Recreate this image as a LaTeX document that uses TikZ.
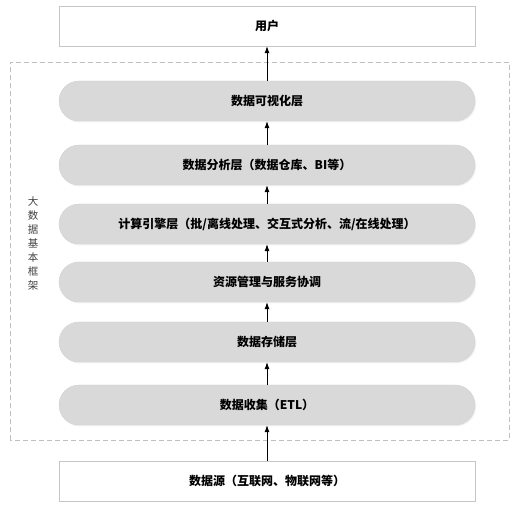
\documentclass[tikz,border=0pt]{standalone}
\usepackage{fontspec}
\newfontfamily\cjk{Noto Sans CJK SC}
\usetikzlibrary{arrows.meta,shadows}

\tikzset{
  layer/.style={draw=gray!35,fill=black!15,rounded corners=20pt,minimum width=416pt,minimum height=40pt,
    font=\cjk\bfseries\fontsize{12}{14}\selectfont,drop shadow={opacity=.12,shadow xshift=1pt,shadow yshift=-1.5pt}},
  endbox/.style={draw=gray!45,fill=white,minimum width=416pt,minimum height=40pt,
    font=\cjk\bfseries\fontsize{12}{14}\selectfont},
  flow/.style={line width=.8pt,-{Latex[length=7pt,width=5pt]}}
}

\begin{document}
\begin{tikzpicture}[x=1pt,y=1pt]
\useasboundingbox (0,0) rectangle (528,528);
% framework frame
\draw[gray!50,dash pattern=on 5pt off 3pt] (10,88) rectangle (509,466);
\node[font=\cjk\fontsize{10.5}{14}\selectfont,align=center,text=black!75] (frame) at (33,284)
  {大\\数\\据\\基\\本\\框\\架};

\node[endbox] (user) at (267,502) {用户};
\node[layer] (vis) at (267,427) {数据可视化层};
\node[layer] (ana) at (267,363) {数据分析层（数据仓库、BI等）};
\node[layer] (comp) at (267,304) {计算引擎层（批/离线处理、交互式分析、流/在线处理）};
\node[layer] (res) at (267,246) {资源管理与服务协调};
\node[layer] (store) at (267,186) {数据存储层};
\node[layer] (etl) at (267,123) {数据收集（ETL）};
\node[endbox] (src) at (267,47) {数据源（互联网、物联网等）};

\foreach \a/\b in {src/etl,etl/store,store/res,res/comp,comp/ana,ana/vis,vis/user}
  \draw[flow] (\a.north)--(\b.south);
\end{tikzpicture}
\end{document}
